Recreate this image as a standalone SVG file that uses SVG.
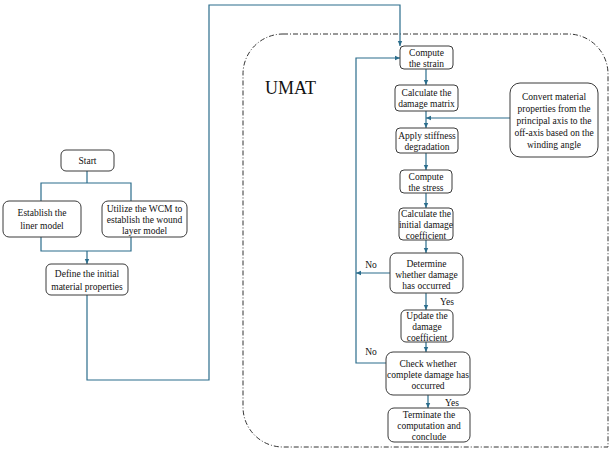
<svg xmlns="http://www.w3.org/2000/svg" width="612" height="451" viewBox="0 0 612 451">
<style>
.b{fill:#fff;stroke:#3a3a3a;stroke-width:1}
.t{font-family:"Liberation Serif","Times New Roman",serif;font-size:9.5px;fill:#111;text-anchor:middle}
.c{fill:none;stroke:#2b6d8c;stroke-width:1.2}
</style>
<defs><marker id="a" markerWidth="6" markerHeight="6" refX="5" refY="3" orient="auto" markerUnits="userSpaceOnUse"><path d="M0,0.8L5,3L0,5.2z" fill="#2b6d8c"/></marker></defs>
<rect width="612" height="451" fill="#fff"/>
<path d="M283,34H568A40,40 0 0 1 608,74V447H283A40,40 0 0 1 243,407V74A40,40 0 0 1 283,34Z" fill="none" stroke="#333" stroke-width="1" stroke-dasharray="5,2,1,2"/>
<text x="265" y="94" font-family="Liberation Serif,serif" font-size="18" fill="#111">UMAT</text>
<g id="connectors">
<path class="c" d="M87,171V183M41,201V183H131V201"/>
<path class="c" d="M41,237V251H131V237M87,251V264" marker-end="url(#a)"/>
<path class="c" d="M87,295V380H209V5H400V46" marker-end="url(#a)"/>
<path class="c" d="M426,69V85" marker-end="url(#a)"/>
<path class="c" d="M426,111V128" marker-end="url(#a)"/>
<path class="c" d="M510,118H426" marker-end="url(#a)"/>
<path class="c" d="M426,153V170" marker-end="url(#a)"/>
<path class="c" d="M426,193V208" marker-end="url(#a)"/>
<path class="c" d="M426,240V253" marker-end="url(#a)"/>
<path class="c" d="M390,273H356" marker-end="url(#a)"/>
<path class="c" d="M426,293V310" marker-end="url(#a)"/>
<path class="c" d="M426,342V352" marker-end="url(#a)"/>
<path class="c" d="M386,363H356V58H400" marker-end="url(#a)"/>
<path class="c" d="M428,395V408" marker-end="url(#a)"/>
</g>
<g>
<text class="t" x="371" y="268">No</text><text class="t" x="447" y="305">Yes</text>
<text class="t" x="371" y="355">No</text><text class="t" x="452" y="406">Yes</text>
</g>
<g id="start"><rect class="b" x="61" y="150" width="53" height="21" rx="5"/><text class="t" x="87.5" y="164">Start</text></g>
<g id="liner"><rect class="b" x="3" y="201" width="78" height="36" rx="6"/><text class="t" x="42" y="216">Establish the</text><text class="t" x="42" y="229">liner model</text></g>
<g id="wcm"><rect class="b" x="102" y="201" width="85" height="36" rx="6"/><text class="t" x="144.5" y="212">Utilize the WCM to</text><text class="t" x="144.5" y="223">establish the wound</text><text class="t" x="144.5" y="234">layer model</text></g>
<g id="define"><rect class="b" x="46" y="264" width="82" height="31" rx="5"/><text class="t" x="87" y="277">Define the initial</text><text class="t" x="87" y="290">material properties</text></g>
<g id="strain"><rect class="b" x="400" y="46" width="53" height="23" rx="4"/><text class="t" x="426.5" y="56">Compute</text><text class="t" x="426.5" y="67">the strain</text></g>
<g id="dmatrix"><rect class="b" x="395" y="85" width="63" height="26" rx="4"/><text class="t" x="426.5" y="96">Calculate the</text><text class="t" x="426.5" y="107">damage matrix</text></g>
<g id="convert"><rect class="b" x="510" y="83" width="88" height="74" rx="10"/><text class="t" x="554" y="100">Convert material</text><text class="t" x="554" y="112">properties from the</text><text class="t" x="554" y="124">principal axis to the</text><text class="t" x="554" y="136">off-axis based on the</text><text class="t" x="554" y="148">winding angle</text></g>
<g id="stiff"><rect class="b" x="396" y="128" width="62" height="25" rx="4"/><text class="t" x="427" y="139">Apply stiffness</text><text class="t" x="427" y="150">degradation</text></g>
<g id="stress"><rect class="b" x="400" y="170" width="52" height="23" rx="4"/><text class="t" x="426" y="180">Compute</text><text class="t" x="426" y="191">the stress</text></g>
<g id="initial"><rect class="b" x="399" y="208" width="54" height="32" rx="4"/><text class="t" x="426" y="217">Calculate the</text><text class="t" x="426" y="228">initial damage</text><text class="t" x="426" y="239">coefficient</text></g>
<g id="determine"><rect class="b" x="390" y="253" width="73" height="40" rx="6"/><text class="t" x="426.5" y="267">Determine</text><text class="t" x="426.5" y="278">whether damage</text><text class="t" x="426.5" y="289">has occurred</text></g>
<g id="update"><rect class="b" x="401" y="310" width="52" height="32" rx="5"/><text class="t" x="427" y="319">Update the</text><text class="t" x="427" y="330">damage</text><text class="t" x="427" y="341">coefficient</text></g>
<g id="check"><rect class="b" x="386" y="352" width="84" height="43" rx="7"/><text class="t" x="428" y="367">Check whether</text><text class="t" x="428" y="378">complete damage has</text><text class="t" x="428" y="389">occurred</text></g>
<g id="terminate"><rect class="b" x="388" y="408" width="82" height="34" rx="6"/><text class="t" x="429" y="418">Terminate the</text><text class="t" x="429" y="429">computation and</text><text class="t" x="429" y="440">conclude</text></g>
</svg>
